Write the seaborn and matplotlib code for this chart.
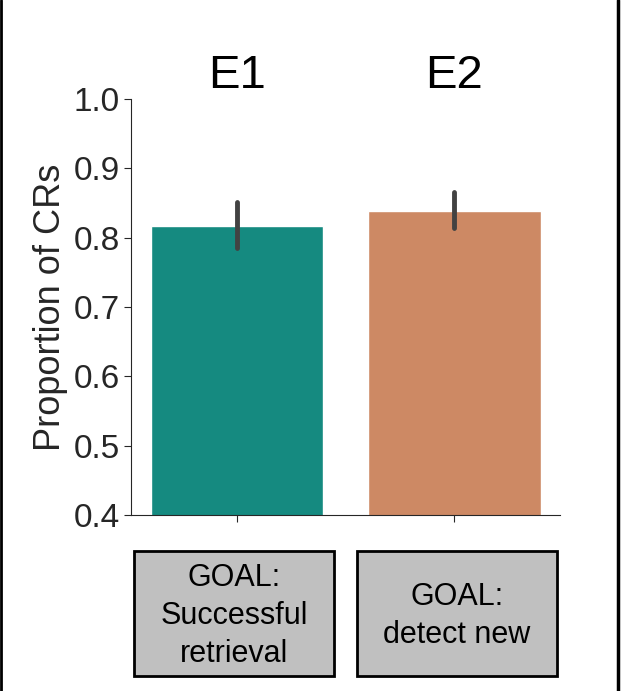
import matplotlib
matplotlib.use("Agg")
import matplotlib.pyplot as plt
import seaborn as sns
import pandas as pd
from matplotlib.lines import Line2D

# veri
experiments = ["E1", "E2"]
mean_cr = [0.817, 0.839]
ci_low = [0.785, 0.814]
ci_high = [0.851, 0.866]
goal_labels = ["GOAL:\nSuccessful\nretrieval", "GOAL:\ndetect new"]
bar_colors = ["#158a80", "#cd8964"]
yticks = [0.4, 0.5, 0.6, 0.7, 0.8, 0.9, 1.0]

sns.set_style("ticks")
plt.rcParams["font.family"] = ["Liberation Sans", "DejaVu Sans"]

df = pd.DataFrame({"exp": experiments, "prop": mean_cr})

fig = plt.figure(figsize=(6.25, 6.91), dpi=100)
ax = fig.add_axes([0.2096, 0.2547, 0.6864, 0.602])

sns.barplot(data=df, x="exp", y="prop", hue="exp", palette=bar_colors,
            errorbar=None, width=0.79, legend=False, ax=ax, saturation=1)

# hata çubukları
for i in range(len(experiments)):
    ax.plot([i, i], [ci_low[i], ci_high[i]], color="#424242", lw=3.5,
            solid_capstyle="round")

ax.set_ylim(0.4, 1.0)
ax.set_yticks(yticks)
ax.set_yticklabels([f"{t:.1f}" for t in yticks])
ax.set_xticks(range(len(experiments)))
ax.set_xticklabels([])
ax.set_xlabel("")
ax.set_ylabel("Proportion of CRs", fontsize=26, labelpad=4)
ax.tick_params(axis="y", labelsize=24, length=5, pad=3, colors="#262626")
ax.tick_params(axis="x", length=5)
sns.despine(ax=ax)

# başlıklar
for i, e in enumerate(experiments):
    ax.text(i, 1.055, e, transform=ax.get_xaxis_transform(), ha="center",
            va="center", fontsize=34, color="black")

# hedef kutuları (piksel: x 134-333 ve 357-558, y 551-676)
box_x = [134 / 625, 357 / 625]
box_w = 200 / 625
box_y = 15 / 691
box_h = 125 / 691
for bx, lab in zip(box_x, goal_labels):
    r = plt.Rectangle((bx, box_y), box_w, box_h, transform=fig.transFigure,
                      facecolor="#c0c0c0", edgecolor="black", lw=2)
    fig.patches.append(r)
    fig.text(bx + box_w / 2, box_y + box_h / 2 - 0.003, lab, ha="center",
             va="center", fontsize=22, linespacing=1.35, color="black")

# çerçeve kenarları
fig.lines.append(Line2D([0.001, 0.001], [0, 1], transform=fig.transFigure,
                        color="black", lw=2))
fig.lines.append(Line2D([0.9888, 0.9888], [0, 1], transform=fig.transFigure,
                        color="black", lw=2.5))

fig.savefig("out.png", dpi=100)
